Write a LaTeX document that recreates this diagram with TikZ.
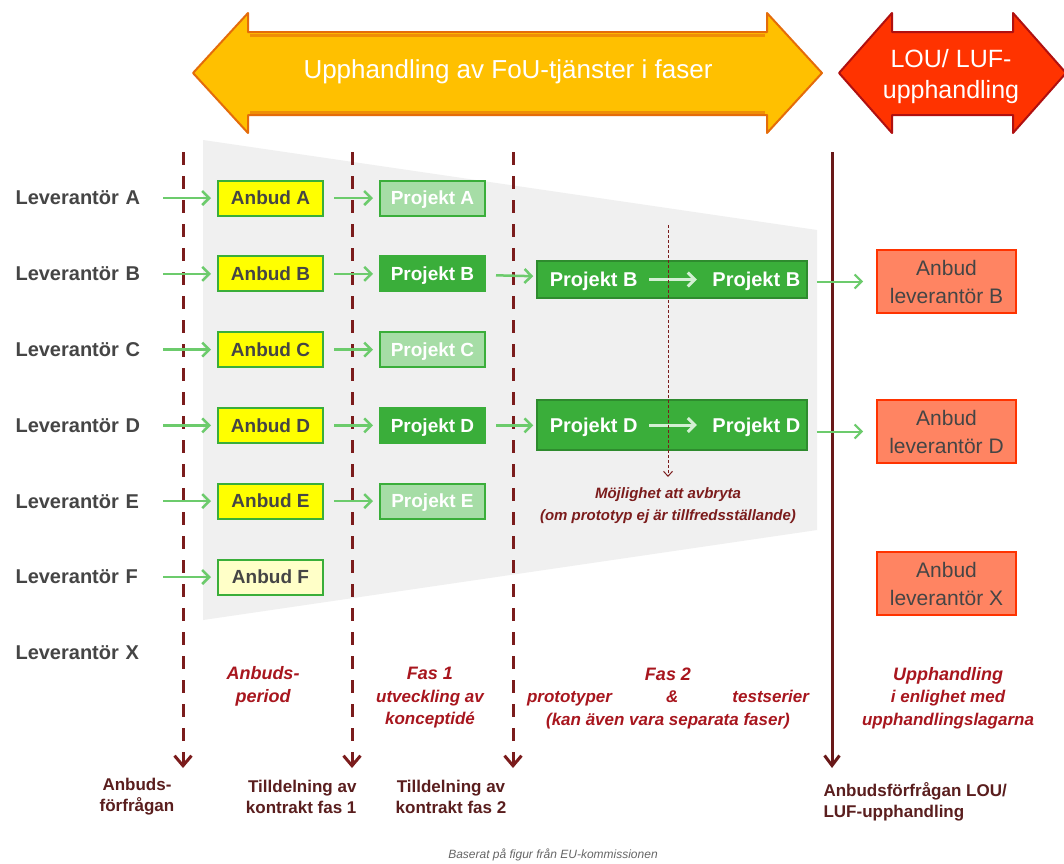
\documentclass[tikz,border=0pt]{standalone}
\usepackage{fontspec}
\setmainfont{Liberation Sans}
\usetikzlibrary{positioning, arrows.meta}

\definecolor{lineRed}{HTML}{7B1C1C}
\definecolor{phaseRed}{HTML}{A8161E}
\definecolor{labelRed}{HTML}{5A1E1E}
\definecolor{fouYellow}{HTML}{FFC000}
\definecolor{fouOrange}{HTML}{E46C0A}
\definecolor{louRed}{HTML}{FF3300}
\definecolor{louDark}{HTML}{B01010}
\definecolor{boxGreen}{HTML}{3AAE3A}
\definecolor{paleGreen}{HTML}{A6DDA6}
\definecolor{arrowGreen}{HTML}{6CCB6C}
\definecolor{anbudYellow}{HTML}{FFFF00}
\definecolor{paleYellow}{HTML}{FFFFC8}
\definecolor{salmon}{HTML}{FF8462}
\definecolor{funnelGray}{HTML}{F0F0F0}
\definecolor{textGray}{HTML}{454545}

\begin{document}
\begin{tikzpicture}[x=1pt, y=-1pt, node distance=75.8pt, on grid, >={Straight Barb[length=7pt,width=14pt]},
    lev/.style={anchor=west, text width=134pt, text=textGray, font=\bfseries\fontsize{20}{24}\selectfont},
    anbud/.style={draw=boxGreen, line width=2pt, fill=anbudYellow, minimum width=105pt, minimum height=35pt, inner sep=0pt, text height=16pt, text depth=2.5pt, text=textGray, font=\bfseries\fontsize{19}{23}\selectfont},
    proj/.style={draw=boxGreen, line width=2pt, fill=boxGreen, minimum width=105pt, minimum height=35pt, inner sep=0pt, text height=16pt, text depth=2.5pt, text=white, font=\bfseries\fontsize{19}{23}\selectfont},
    projpale/.style={proj, fill=paleGreen},
    fastwo/.style={draw=boxGreen!80!black, line width=1.5pt, fill=boxGreen, minimum width=270pt, inner sep=0pt},
    fastext/.style={text=white, text height=16.5pt, text depth=2pt, font=\bfseries\fontsize{20}{24}\selectfont},
    lou/.style={draw=louRed, line width=2pt, fill=salmon, minimum width=139pt, minimum height=63pt, inner sep=0pt, align=center, text=textGray, font=\fontsize{21}{28}\selectfont},
    feed/.style={->, arrowGreen, line width=2.5pt, shorten <=10pt, shorten >=6pt},
    cut/.style={->, lineRed, line width=3pt, dash pattern=on 13pt off 11pt},
    phase/.style={text=phaseRed, align=center, font=\bfseries\itshape\fontsize{17}{22.5}\selectfont},
    note/.style={text=labelRed, font=\bfseries\fontsize{17}{21}\selectfont},
]
    \fill[white] (0,0) rectangle (1064,863);
    \useasboundingbox (0,0) rectangle (1064,863);

    % funnel
    \fill[funnelGray] (203,140) -- (817,230) -- (817,530) -- (203,620) -- cycle;

    % top arrows
    \filldraw[fill=fouYellow, draw=fouOrange, line width=2pt, line join=round]
        (193,73) -- (248,13) -- (248,32) -- (767,32) -- (767,13) -- (822,73)
        -- (767,133) -- (767,115) -- (248,115) -- (248,133) -- cycle;
    \draw[fouOrange!60!fouYellow, line width=3pt] (250,35) -- (765,35) (250,112) -- (765,112);
    \node[text=white, font=\fontsize{26}{30}\selectfont] (fouLabel) at (508,72) {Upphandling av FoU-tjänster i faser};

    \filldraw[fill=louRed, draw=louDark, line width=2pt, line join=round]
        (839,73) -- (892,13) -- (892,32) -- (1013,32) -- (1013,13) -- (1066,73)
        -- (1013,133) -- (1013,115) -- (892,115) -- (892,133) -- cycle;
    \node[text=white, align=center, font=\fontsize{25}{31}\selectfont] (louLabel) at (951,77) {LOU/ LUF-\\upphandling};

    % time lines
    \coordinate (t0) at (183,152);  \coordinate (b0) at (183,768);
    \coordinate (t1) at (352,152);  \coordinate (b1) at (352,768);
    \coordinate (t2) at (513,152);  \coordinate (b2) at (513,768);
    \coordinate (t3) at (832,152);  \coordinate (b3) at (832,768);
    \draw[cut, >={Straight Barb[length=10pt,width=17pt]}] (t0) -- (b0);
    \draw[cut, >={Straight Barb[length=10pt,width=17pt]}] (t1) -- (b1);
    \draw[cut, >={Straight Barb[length=10pt,width=17pt]}] (t2) -- (b2);
    \draw[->, lineRed!85!black, line width=3pt, >={Straight Barb[length=10pt,width=15pt]}] (t3) -- (b3);

    % suppliers
    \node[lev] (levA) at (12,198) {Leverantör A};
    \node[lev, below=of levA] (levB) {Leverantör B};
    \node[lev, below=of levB] (levC) {Leverantör C};
    \node[lev, below=of levC] (levD) {Leverantör D};
    \node[lev, below=of levD] (levE) {Leverantör E};
    \node[lev, below=of levE] (levF) {Leverantör F};
    \node[lev, below=of levF] (levX) {Leverantör X};

    % tenders
    \node[anbud] (anbudA) at (270.5,198) {Anbud A};
    \node[anbud, below=of anbudA] (anbudB) {Anbud B};
    \node[anbud, below=of anbudB] (anbudC) {Anbud C};
    \node[anbud, below=of anbudC] (anbudD) {Anbud D};
    \node[anbud, below=of anbudD] (anbudE) {Anbud E};
    \node[anbud, fill=paleYellow, below=of anbudE] (anbudF) {Anbud F};

    % phase 1
    \node[projpale, right=162pt of anbudA] (projA) {Projekt A};
    \node[proj, right=162pt of anbudB] (projB) {Projekt B};
    \node[projpale, right=162pt of anbudC] (projC) {Projekt C};
    \node[proj, right=162pt of anbudD] (projD) {Projekt D};
    \node[projpale, right=162pt of anbudE] (projE) {Projekt E};

    % phase 2
    \node[fastwo, minimum height=37pt] (fasB) at (672,279.5) {};
    \node[fastext, anchor=west, xshift=10pt] (fasB1) at (fasB.west) {Projekt B};
    \node[fastext, anchor=east, xshift=-4pt] (fasB2) at (fasB.east) {Projekt B};
    \node[fastwo, minimum height=50pt] (fasD) at (672,425) {};
    \node[fastext, anchor=west, xshift=10pt] (fasD1) at (fasD.west) {Projekt D};
    \node[fastext, anchor=east, xshift=-4pt] (fasD2) at (fasD.east) {Projekt D};

    % procurement
    \node[lou] (louB) at (946.5,281.5) {Anbud\\leverantör B};
    \node[lou] (louD) at (946.5,431.5) {Anbud\\leverantör D};
    \node[lou] (louX) at (946.5,583.5) {Anbud\\leverantör X};

    \draw[feed] (levA.east) -- (anbudA.west);
    \draw[feed] (levB.east) -- (anbudB.west);
    \draw[feed] (levC.east) -- (anbudC.west);
    \draw[feed] (levD.east) -- (anbudD.west);
    \draw[feed] (levE.east) -- (anbudE.west);
    \draw[feed] (levF.east) -- (anbudF.west);
    \draw[feed] (anbudA) -- (projA);
    \draw[feed] (anbudB) -- (projB);
    \draw[feed] (anbudC) -- (projC);
    \draw[feed] (anbudD) -- (projD);
    \draw[feed] (anbudE) -- (projE);
    \draw[feed, shorten >=3pt] (projB) -- (fasB);
    \draw[feed, shorten >=3pt] (projD.east) -- (fasD.west |- projD.east);
    \draw[->, white!70!arrowGreen, line width=3pt, shorten <=8pt, shorten >=12pt] (fasB1) -- (fasB2);
    \draw[->, white!70!arrowGreen, line width=3pt, shorten <=8pt, shorten >=12pt] (fasD1) -- (fasD2);
    \draw[feed, line width=2pt, shorten <=9pt, shorten >=13pt] (fasB.east |- louB) -- (louB);
    \draw[feed, line width=2pt, shorten <=9pt, shorten >=13pt] (fasD.east |- louD) -- (louD);

    % possible stop
    \coordinate (stopT) at (668,225);
    \coordinate (stopB) at (668,477);
    \draw[->, lineRed, line width=1pt, densely dashed, >={Straight Barb[length=5pt,width=9pt]}] (stopT) -- (stopB);
    \node[text=lineRed, align=center, font=\bfseries\itshape\fontsize{15}{22}\selectfont] (stopNote) at (668,506)
        {Möjlighet att avbryta\\(om prototyp ej är tillfredsställande)};

    % phases
    \node[phase, font=\bfseries\itshape\fontsize{18}{23}\selectfont] (phAnbud) at (263,686) {Anbuds-\\period};
    \node[phase] (phFas1) at (430,698) {{\fontsize{18}{22}\selectfont Fas 1}\\utveckling av\\konceptidé};
    \node[phase] (phFas2) at (668,698) {{\fontsize{18}{22}\selectfont Fas 2}\\\makebox[282pt][s]{prototyper \& testserier}\\(kan även vara separata faser)};
    \node[phase] (phUpph) at (948,698) {{\fontsize{18}{22}\selectfont Upphandling}\\i enlighet med\\upphandlingslagarna};

    % milestones
    \node[note, align=center] (msStart) at (137,797) {Anbuds-\\förfrågan};
    \node[note, align=right, anchor=east] (msFas1) at (360,797) {Tilldelning av\\kontrakt fas 1};
    \node[note, align=center] (msFas2) at (451,797) {Tilldelning av\\kontrakt fas 2};
    \node[note, align=left, anchor=west] (msLou) at (820,802) {Anbudsförfrågan LOU/\\LUF-upphandling};

    \node[text=black!60, font=\itshape\fontsize{12}{14}\selectfont] (source) at (553,855) {Baserat på figur från EU-kommissionen};
\end{tikzpicture}
\end{document}
